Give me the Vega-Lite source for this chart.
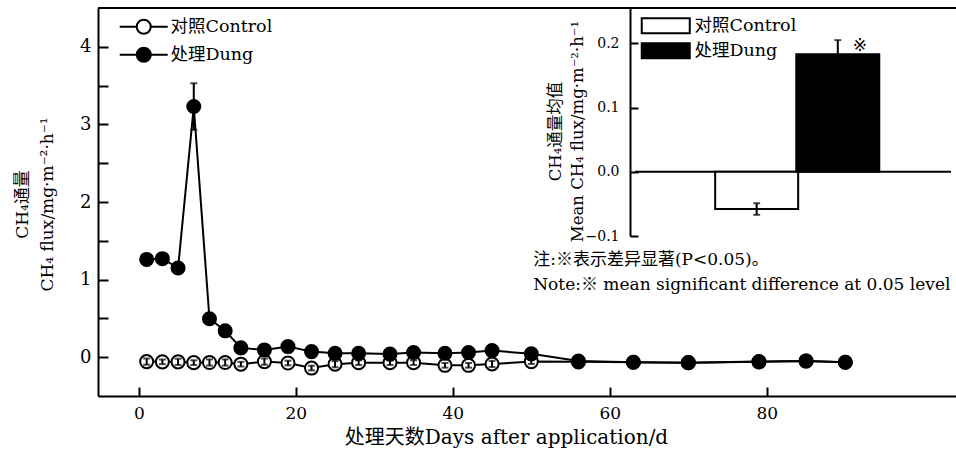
{
  "$schema": "https://vega.github.io/schema/vega-lite/v6.json",
  "width": 858,
  "height": 388,
  "autosize": "none",
  "padding": {"left": 98, "top": 8, "right": 0, "bottom": 58},
  "background": "white",
  "config": {
    "view": {"stroke": null},
    "font": "DejaVu Serif, Noto Sans CJK SC",
    "axis": {
      "domainColor": "black", "domainWidth": 2, "tickColor": "black", "tickWidth": 2,
      "labelColor": "black", "titleColor": "black", "grid": false,
      "titleFontWeight": "normal", "labelFont": "DejaVu Serif", "titleFont": "DejaVu Serif, Noto Sans CJK SC"
    },
    "legend": {"labelFont": "DejaVu Serif, Noto Sans CJK SC", "labelColor": "black"}
  },
  "datasets": {
    "flux": [
      {"day": 1, "group": "对照Control", "value": -0.057, "err": 0.04},
      {"day": 3, "group": "对照Control", "value": -0.06, "err": 0.03},
      {"day": 5, "group": "对照Control", "value": -0.06, "err": 0.04},
      {"day": 7, "group": "对照Control", "value": -0.07, "err": 0.03},
      {"day": 9, "group": "对照Control", "value": -0.068, "err": 0.04},
      {"day": 11, "group": "对照Control", "value": -0.068, "err": 0.04},
      {"day": 13, "group": "对照Control", "value": -0.09, "err": 0.03},
      {"day": 16, "group": "对照Control", "value": -0.057, "err": 0.04},
      {"day": 19, "group": "对照Control", "value": -0.075, "err": 0.03},
      {"day": 22, "group": "对照Control", "value": -0.14, "err": 0.03},
      {"day": 25, "group": "对照Control", "value": -0.09, "err": 0.04},
      {"day": 28, "group": "对照Control", "value": -0.07, "err": 0.03},
      {"day": 32, "group": "对照Control", "value": -0.07, "err": 0.03},
      {"day": 35, "group": "对照Control", "value": -0.07, "err": 0.03},
      {"day": 39, "group": "对照Control", "value": -0.105, "err": 0.03},
      {"day": 42, "group": "对照Control", "value": -0.105, "err": 0.03},
      {"day": 45, "group": "对照Control", "value": -0.087, "err": 0.04},
      {"day": 50, "group": "对照Control", "value": -0.057, "err": 0.03},
      {"day": 56, "group": "对照Control", "value": -0.06, "err": 0.02},
      {"day": 63, "group": "对照Control", "value": -0.065, "err": 0.02},
      {"day": 70, "group": "对照Control", "value": -0.07, "err": 0.02},
      {"day": 79, "group": "对照Control", "value": -0.06, "err": 0.02},
      {"day": 85, "group": "对照Control", "value": -0.05, "err": 0.02},
      {"day": 90, "group": "对照Control", "value": -0.065, "err": 0.02},
      {"day": 1, "group": "处理Dung", "value": 1.26, "err": 0.05},
      {"day": 3, "group": "处理Dung", "value": 1.27, "err": 0.05},
      {"day": 5, "group": "处理Dung", "value": 1.15, "err": 0.05},
      {"day": 7, "group": "处理Dung", "value": 3.23, "err": 0.3},
      {"day": 9, "group": "处理Dung", "value": 0.495, "err": 0.05},
      {"day": 11, "group": "处理Dung", "value": 0.34, "err": 0.05},
      {"day": 13, "group": "处理Dung", "value": 0.12, "err": 0.04},
      {"day": 16, "group": "处理Dung", "value": 0.094, "err": 0.04},
      {"day": 19, "group": "处理Dung", "value": 0.137, "err": 0.04},
      {"day": 22, "group": "处理Dung", "value": 0.072, "err": 0.04},
      {"day": 25, "group": "处理Dung", "value": 0.05, "err": 0.04},
      {"day": 28, "group": "处理Dung", "value": 0.05, "err": 0.04},
      {"day": 32, "group": "处理Dung", "value": 0.04, "err": 0.04},
      {"day": 35, "group": "处理Dung", "value": 0.06, "err": 0.04},
      {"day": 39, "group": "处理Dung", "value": 0.05, "err": 0.04},
      {"day": 42, "group": "处理Dung", "value": 0.06, "err": 0.04},
      {"day": 45, "group": "处理Dung", "value": 0.085, "err": 0.04},
      {"day": 50, "group": "处理Dung", "value": 0.043, "err": 0.04},
      {"day": 56, "group": "处理Dung", "value": -0.05, "err": 0.03},
      {"day": 63, "group": "处理Dung", "value": -0.065, "err": 0.03},
      {"day": 70, "group": "处理Dung", "value": -0.07, "err": 0.03},
      {"day": 79, "group": "处理Dung", "value": -0.057, "err": 0.03},
      {"day": 85, "group": "处理Dung", "value": -0.048, "err": 0.03},
      {"day": 90, "group": "处理Dung", "value": -0.065, "err": 0.03}
    ],
    "means": [
      {"idx": 1, "group": "对照Control", "mean": -0.058, "err": 0.009, "sig": ""},
      {"idx": 2, "group": "处理Dung", "mean": 0.183, "err": 0.022, "sig": "※"}
    ],
    "one": [{}]
  },
  "layer": [
    {
      "layer": [
        {
          "data": {"name": "flux"},
          "mark": {"type": "line", "color": "black", "strokeWidth": 2},
          "encoding": {
            "x": {"field": "day", "type": "quantitative", "title": "处理天数Days after application/d",
              "scale": {"domain": [-5.2, 104.1], "nice": false, "zero": false},
              "axis": {"values": [0, 20, 40, 60, 80], "tickSize": -9, "labelPadding": 18, "labelFontSize": 17,
                "titleFontSize": 20, "titleX": 408, "titleY": 41, "titleBaseline": "middle", "titleAnchor": null}},
            "y": {"field": "value", "type": "quantitative", "title": ["CH₄通量", "CH₄ flux/mg·m⁻²·h⁻¹"],
              "scale": {"domain": [-0.5, 4.5], "nice": false, "zero": false},
              "axis": {"values": [0, 0.5, 1, 1.5, 2, 2.5, 3, 3.5, 4], "labelExpr": "datum.value % 1 == 0 ? format(datum.value, 'd') : ''",
                "tickSize": -10, "labelPadding": 17, "labelFontSize": 18,
                "titleFontSize": 17, "titleLineHeight": 25,
                "titleX": -76, "titleY": 196, "titleBaseline": "middle", "titleAlign": "center", "titleAngle": -90}},
            "detail": {"field": "group"}
          }
        },
        {
          "data": {"name": "one"},
          "mark": {"type": "rule", "color": "black", "strokeWidth": 2},
          "encoding": {"y": {"datum": 4.5, "type": "quantitative", "title": ["CH₄通量", "CH₄ flux/mg·m⁻²·h⁻¹"]}}
        },
        {
          "data": {"name": "flux"},
          "mark": {"type": "circle", "size": 170, "stroke": "black", "strokeWidth": 2, "opacity": 1},
          "encoding": {
            "x": {"field": "day", "type": "quantitative", "title": "处理天数Days after application/d"},
            "y": {"field": "value", "type": "quantitative", "title": ["CH₄通量", "CH₄ flux/mg·m⁻²·h⁻¹"]},
            "fill": {"field": "group", "type": "nominal",
              "scale": {"domain": ["对照Control", "处理Dung"], "range": ["white", "black"]},
              "legend": {"orient": "none", "legendX": 37, "legendY": 10, "title": null,
                "symbolType": "M-3.43,0H-1M1,0H3.43M-1,0A1,1 0 1,1 1,0A1,1 0 1,1 -1,0",
                "symbolSize": 196, "symbolStrokeColor": "black", "symbolStrokeWidth": 2, "symbolOpacity": 1,
                "labelFontSize": 17.5, "labelOffset": 18, "rowPadding": 5}}
          }
        },
        {
          "data": {"name": "flux"},
          "mark": {"type": "errorbar", "color": "black", "thickness": 2, "ticks": {"size": 7, "color": "black", "thickness": 2}},
          "encoding": {
            "x": {"field": "day", "type": "quantitative", "title": "处理天数Days after application/d"},
            "y": {"field": "value", "type": "quantitative", "title": ["CH₄通量", "CH₄ flux/mg·m⁻²·h⁻¹"]},
            "yError": {"field": "err"}
          }
        }
      ]
    },
    {
      "layer": [
        {
          "data": {"name": "one"},
          "mark": {"type": "rule", "color": "black", "strokeWidth": 2},
          "encoding": {
            "x": {"datum": -0.5, "type": "quantitative",
              "scale": {"domain": [-0.5, 3.396], "range": [532, 858], "nice": false, "zero": false}, "axis": null},
            "x2": {"datum": 3.396},
            "y": {"datum": 0, "type": "quantitative", "title": ["CH₄通量均值", "Mean CH₄ flux/mg·m⁻²·h⁻¹"],
              "scale": {"domain": [-0.1, 0.255], "range": [228, 0], "nice": false, "zero": false},
              "axis": {"orient": "left", "offset": -532, "values": [-0.1, 0, 0.1, 0.2], "format": ".1f",
                "tickSize": -8, "labelPadding": 19, "labelFontSize": 14,
                "titleFontSize": 16.5, "titleLineHeight": 22,
                "titleX": -75, "titleY": 123, "titleBaseline": "middle", "titleAlign": "center", "titleAngle": -90}}
          }
        },
        {
          "data": {"name": "means"},
          "mark": {"type": "bar", "width": 83, "stroke": "black", "strokeWidth": 2},
          "encoding": {
            "x": {"field": "idx", "type": "quantitative", "axis": null},
            "y": {"field": "mean", "type": "quantitative", "title": ["CH₄通量均值", "Mean CH₄ flux/mg·m⁻²·h⁻¹"]},
            "y2": {"datum": 0},
            "fill": {"field": "group", "type": "nominal",
              "scale": {"domain": ["对照Control", "处理Dung"], "range": ["white", "black"]},
              "legend": {"orient": "none", "legendX": 559, "legendY": 9, "title": null,
                "symbolType": "M-3.43,-1.07H3.43V1.07H-3.43Z",
                "symbolSize": 196, "symbolStrokeColor": "black", "symbolStrokeWidth": 2, "symbolOpacity": 1,
                "labelFontSize": 17.5, "labelOffset": 20, "rowPadding": 1}}
          }
        },
        {
          "data": {"name": "means"},
          "mark": {"type": "errorbar", "color": "black", "thickness": 2, "ticks": {"size": 7, "color": "black", "thickness": 2}},
          "encoding": {
            "x": {"field": "idx", "type": "quantitative", "axis": null},
            "y": {"field": "mean", "type": "quantitative", "title": ["CH₄通量均值", "Mean CH₄ flux/mg·m⁻²·h⁻¹"]},
            "yError": {"field": "err"}
          }
        },
        {
          "data": {"name": "means"},
          "mark": {"type": "text", "dx": 22, "dy": -8, "fontSize": 17, "color": "black", "font": "DejaVu Sans"},
          "encoding": {
            "x": {"field": "idx", "type": "quantitative", "axis": null},
            "y": {"field": "mean", "type": "quantitative", "title": ["CH₄通量均值", "Mean CH₄ flux/mg·m⁻²·h⁻¹"]},
            "text": {"field": "sig"}
          }
        },
        {
          "data": {"name": "one"},
          "mark": {"type": "text", "align": "left", "baseline": "middle", "fontSize": 17, "color": "black"},
          "encoding": {
            "x": {"datum": -1.755, "type": "quantitative", "axis": null},
            "y": {"datum": -0.1373, "type": "quantitative", "title": ["CH₄通量均值", "Mean CH₄ flux/mg·m⁻²·h⁻¹"]},
            "text": {"value": "注:※表示差异显著(P<0.05)。"}
          }
        },
        {
          "data": {"name": "one"},
          "mark": {"type": "text", "align": "left", "baseline": "middle", "fontSize": 17, "color": "black"},
          "encoding": {
            "x": {"datum": -1.755, "type": "quantitative", "axis": null},
            "y": {"datum": -0.1763, "type": "quantitative", "title": ["CH₄通量均值", "Mean CH₄ flux/mg·m⁻²·h⁻¹"]},
            "text": {"value": "Note:※  mean significant difference at 0.05 level"}
          }
        }
      ]
    }
  ],
  "resolve": {
    "scale": {"x": "independent", "y": "independent", "fill": "independent"},
    "axis": {"x": "independent", "y": "independent"},
    "legend": {"fill": "independent"}
  }
}
